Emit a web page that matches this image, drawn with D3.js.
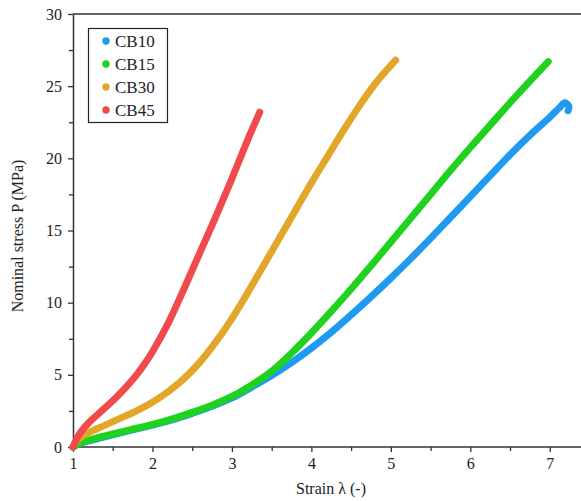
<!DOCTYPE html>
<html><head><meta charset="utf-8">
<script src="https://cdn.jsdelivr.net/npm/d3@7"></script>
<style>body{margin:0;background:#fff;overflow:hidden}svg{display:block}text{font-family:"Liberation Serif","Times New Roman",serif;fill:#222}</style>
</head><body>
<script>
const seriesNames = ["CB10","CB15","CB30","CB45"];
const seriesColors = ["#1E9BF0","#1ED21E","#E2A72A","#F04A4C"];
const xTicks = [1,2,3,4,5,6,7];
const yTicks = [0,5,10,15,20,25,30];

const cb10 = [[1,0],[1.1,0.27],[1.25,0.5],[1.5,0.85],[1.75,1.18],[2.0,1.52],[2.25,1.88],[2.5,2.33],[2.75,2.82],[3.0,3.4],[3.25,4.15],[3.5,4.95],[3.75,5.85],[4.0,6.85],[4.25,7.95],[4.5,9.15],[4.75,10.4],[5.0,11.7],[5.25,13.05],[5.5,14.45],[5.75,15.9],[6.0,17.35],[6.25,18.8],[6.5,20.25],[6.75,21.6],[7.0,22.85],[7.12,23.5],[7.19,23.85],[7.24,23.6],[7.23,23.3]];
const cb15 = [[1,0],[1.1,0.3],[1.25,0.55],[1.5,0.9],[1.75,1.23],[2.0,1.57],[2.25,1.95],[2.5,2.4],[2.75,2.9],[3.0,3.5],[3.25,4.3],[3.5,5.25],[3.75,6.5],[4.0,7.9],[4.25,9.4],[4.5,10.95],[4.75,12.55],[5.0,14.2],[5.25,15.85],[5.5,17.5],[5.75,19.15],[6.0,20.75],[6.25,22.3],[6.5,23.85],[6.75,25.35],[6.98,26.7]];
const cb30 = [[1,0],[1.05,0.45],[1.1,0.7],[1.2,1.0],[1.4,1.5],[1.6,2.0],[1.8,2.5],[2.0,3.1],[2.2,3.85],[2.4,4.75],[2.6,5.9],[2.8,7.3],[3.0,8.9],[3.2,10.7],[3.4,12.6],[3.6,14.5],[3.8,16.4],[4.0,18.3],[4.2,20.1],[4.4,21.9],[4.6,23.6],[4.8,25.15],[5.06,26.8]];
const cb45 = [[1,0],[1.05,0.6],[1.1,1.05],[1.2,1.7],[1.3,2.2],[1.4,2.7],[1.5,3.2],[1.6,3.75],[1.7,4.35],[1.8,5.0],[1.9,5.75],[2.0,6.6],[2.2,8.6],[2.4,11.0],[2.6,13.5],[2.8,16.0],[3.0,18.6],[3.2,21.3],[3.35,23.2]];
const seriesData = [cb10, cb15, cb30, cb45];

const W = 581, H = 501;
const svg = d3.select("body").append("svg").attr("width", W).attr("height", H);
const x = d3.scaleLinear().domain([1, 7.5]).range([73, 589.5]);
const y = d3.scaleLinear().domain([0, 30]).range([447, 14]);

// frame top
svg.append("line").attr("x1", x(1)).attr("x2", W + 10).attr("y1", y(30)).attr("y2", y(30))
  .attr("stroke", "#333").attr("stroke-width", 1.5);

// minor ticks
const xMinor = d3.range(1.5, 7.5, 1);
const yMinor = d3.range(2.5, 30, 5);
svg.append("g").attr("transform", `translate(0,${y(0)})`)
  .call(d3.axisBottom(x).tickValues(xMinor).tickSize(4).tickFormat(""))
  .call(g => g.select(".domain").remove())
  .selectAll("line").attr("stroke", "#333").attr("stroke-width", 1.3);
svg.append("g").attr("transform", `translate(${x(1)},0)`)
  .call(d3.axisLeft(y).tickValues(yMinor).tickSize(4).tickFormat(""))
  .call(g => g.select(".domain").remove())
  .selectAll("line").attr("stroke", "#333").attr("stroke-width", 1.3);

// major axes
const gx = svg.append("g").attr("transform", `translate(0,${y(0)})`)
  .call(d3.axisBottom(x).tickValues(xTicks).tickSize(5).tickPadding(6).tickSizeOuter(0).tickFormat(d3.format("d")));
gx.select(".domain").attr("d", `M${x(1)},0H${W + 10}`).attr("stroke", "#333").attr("stroke-width", 1.5);
gx.selectAll("line").attr("stroke", "#333").attr("stroke-width", 1.3);
gx.selectAll("text").attr("font-size", 16).attr("font-family", "Liberation Serif").attr("fill", "#222");

const gy = svg.append("g").attr("transform", `translate(${x(1)},0)`)
  .call(d3.axisLeft(y).tickValues(yTicks).tickSize(5).tickPadding(6).tickSizeOuter(0).tickFormat(d3.format("d")));
gy.select(".domain").attr("stroke", "#333").attr("stroke-width", 1.5);
gy.selectAll("line").attr("stroke", "#333").attr("stroke-width", 1.3);
gy.selectAll("text").attr("font-size", 16).attr("font-family", "Liberation Serif").attr("fill", "#222");

// axis titles
svg.append("text").attr("x", 331).attr("y", 494).attr("text-anchor", "middle")
  .attr("font-size", 16).text("Strain λ (-)");
svg.append("text").attr("transform", "translate(23,236) rotate(-90)").attr("text-anchor", "middle")
  .attr("font-size", 16).text("Nominal stress P (MPa)");

// curves
const line = d3.line().x(d => x(d[0])).y(d => y(d[1])).curve(d3.curveCatmullRom.alpha(0.5));
svg.append("g").selectAll("path").data(seriesData).join("path")
  .attr("d", line).attr("fill", "none")
  .attr("stroke", (d, i) => seriesColors[i]).attr("stroke-width", 7)
  .attr("stroke-linecap", "round").attr("stroke-linejoin", "round");

// legend
const lg = svg.append("g");
lg.append("rect").attr("x", 88.5).attr("y", 28.5).attr("width", 79).attr("height", 94)
  .attr("fill", "#fff").attr("stroke", "#222").attr("stroke-width", 1.2);
const ly = d3.scalePoint().domain(seriesNames).range([41, 110]);
seriesNames.forEach((n, i) => {
  lg.append("circle").attr("cx", 106).attr("cy", ly(n)).attr("r", 3.7).attr("fill", seriesColors[i]);
  lg.append("text").attr("x", 115).attr("y", ly(n)).attr("dy", "0.35em")
    .attr("font-size", 17).text(n);
});
</script>
</body></html>
